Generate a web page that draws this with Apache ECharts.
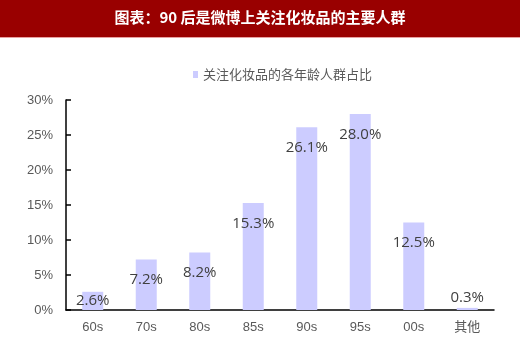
<!DOCTYPE html>
<html><head><meta charset="utf-8">
<script src="https://cdn.jsdelivr.net/npm/echarts@6/dist/echarts.min.js"></script>
<style>html,body{margin:0;padding:0;background:#fff}#c{width:520px;height:340px}</style>
</head><body><div id="c"></div>
<script>
const titleText = '图表：90 后是微博上关注化妆品的主要人群';
const seriesName = '关注化妆品的各年龄人群占比';
const categories = ['60s','70s','80s','85s','90s','95s','00s','其他'];
const values = [2.6, 7.2, 8.2, 15.3, 26.1, 28.0, 12.5, 0.3];
const yTicks = [0, 5, 10, 15, 20, 25, 30];

const chart = echarts.init(document.getElementById('c'));
const data = values.map((v, i) => {
  const item = { value: v };
  if (v < 1) item.label = { position: 'top', distance: 3 };
  else if (v < 5) item.label = { position: 'insideTop', distance: 1 };
  return item;
});
chart.setOption({
  animation: false,
  graphic: [
    { type: 'rect', shape: { x: 0, y: 0, width: 520, height: 37 }, style: { fill: '#990000' } },
    { type: 'rect', shape: { x: 0, y: 37, width: 520, height: 1 }, style: { fill: '#e8a0a0' } },
    { type: 'text', left: 'center', top: 10, style: { text: titleText, fill: '#fff', font: 'bold 15px "Noto Sans CJK SC", sans-serif' } }
  ],
  legend: {
    data: [seriesName], left: 188, top: 63, icon: 'rect', itemWidth: 5, itemHeight: 7, itemGap: 4,
    textStyle: { color: '#595959', fontSize: 13, fontFamily: '"Noto Sans CJK SC", sans-serif' }
  },
  grid: { left: 66, right: 26, top: 100, bottom: 30 },
  xAxis: {
    type: 'category', data: categories,
    axisLine: { lineStyle: { color: '#000', width: 1.5 } },
    axisTick: { show: false },
    axisLabel: { color: '#595959', fontSize: 13, margin: 11, fontFamily: '"Liberation Sans", "Noto Sans CJK SC", sans-serif' }
  },
  yAxis: {
    type: 'value', min: yTicks[0], max: yTicks[yTicks.length - 1], interval: 5,
    axisLine: { show: true, lineStyle: { color: '#000', width: 1.5 } },
    axisTick: { show: true, inside: true, length: 5, lineStyle: { color: '#000', width: 1.5 } },
    splitLine: { show: false },
    axisLabel: { color: '#595959', fontSize: 13, margin: 13, formatter: '{value}%', fontFamily: '"Liberation Sans", sans-serif' }
  },
  series: [{
    name: seriesName, type: 'bar', data: data, barWidth: 21,
    itemStyle: { color: '#ccccff' },
    label: { show: true, position: 'insideTop', distance: 13, color: '#404040', fontSize: 15,
      fontFamily: '"Open Sans", "Liberation Sans", sans-serif', formatter: p => p.value.toFixed(1) + '%' }
  }]
});
</script></body></html>
